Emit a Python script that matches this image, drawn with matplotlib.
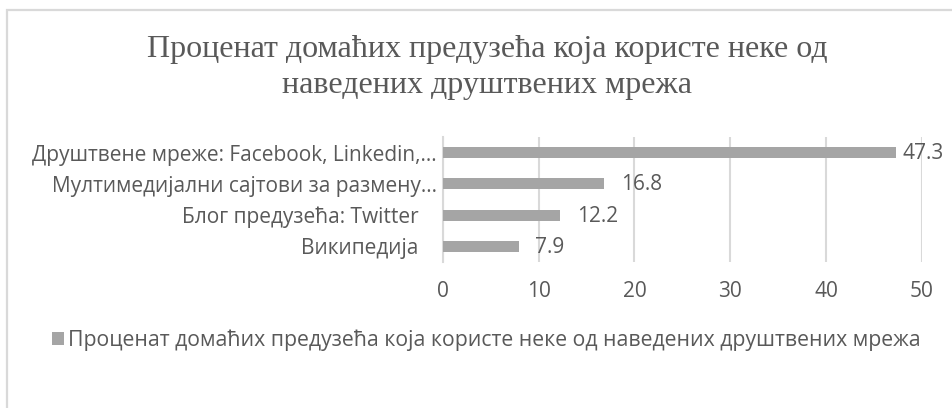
import matplotlib
matplotlib.use("Agg")
import matplotlib.pyplot as plt
import matplotlib.transforms as mtransforms
from matplotlib.patches import Rectangle, Patch

# Data
categories = [
    "Друштвене мреже: Facebook, Linkedin,…",
    "Мултимедијални сајтови за размену…",
    "Блог предузећа: Twitter",
    "Википедија",
]
values = [47.3, 16.8, 12.2, 7.9]
x_ticks = [0, 10, 20, 30, 40, 50]
series_name = "Проценат домаћих предузећа која користе неке од наведених друштвених мрежа"
title_lines = ["Проценат домаћих предузећа која користе неке од",
               "наведених друштвених мрежа"]

TEXT = "#595959"
BAR = "#a5a5a5"
GRID = "#d9d9d9"
SANS = ["Open Sans", "DejaVu Sans"]
FS = 15

W, H, DPI = 952, 408, 100
fig = plt.figure(figsize=(W / DPI, H / DPI), dpi=DPI)
fig.patch.set_facecolor("white")

# chart frame (left and top edges visible)
fig.patches.append(Rectangle((7 / W, -0.2), 1.2, 1.2 - 10 / H,
                             transform=fig.transFigure, fill=False,
                             edgecolor=GRID, linewidth=1.6, zorder=0))

ax = fig.add_axes([443 / W, 1 - 262 / H, (921.7 - 443) / W, (262 - 137) / H])

y = list(range(len(categories)))
ax.barh(y, values, height=0.35, color=BAR, zorder=3)
ax.set_ylim(len(categories) - 0.5, -0.5)
ax.set_xlim(0, 50)

ax.set_xticks(x_ticks)
ax.set_xticklabels([str(t) for t in x_ticks], family=SANS, fontsize=FS, color=TEXT)
ax.set_yticks(y)
ax.set_yticklabels(categories, family=SANS, fontsize=FS, color=TEXT)
ax.tick_params(axis="x", length=0, pad=14)
ax.tick_params(axis="y", length=0, pad=4.5)

# labels not truncated sit a little further from the axis
for lab in ax.get_yticklabels():
    if not lab.get_text().endswith("…"):
        lab.set_transform(lab.get_transform() +
                          mtransforms.ScaledTranslation(-18 / DPI, 0, fig.dpi_scale_trans))

ax.grid(axis="x", color=GRID, linewidth=1.5, zorder=0)
for s in ("top", "right", "bottom"):
    ax.spines[s].set_visible(False)
ax.spines["left"].set_color(GRID)
ax.spines["left"].set_linewidth(1.5)

# value labels
offsets = [7, 17, 17, 16]
for yi, v, off in zip(y, values, offsets):
    ax.annotate(f"{v}", xy=(v, yi), xytext=(off, -1), textcoords="offset pixels",
                ha="left", va="center", family=SANS, fontsize=FS, color=TEXT,
                annotation_clip=False)

for line, ypx in zip(title_lines, [49, 86]):
    fig.text(487.5 / W, 1 - ypx / H, line, ha="center", va="center",
             family=["Liberation Serif"], fontsize=23, color=TEXT)

handle = Patch(facecolor=BAR, edgecolor="none")
fig.legend([handle], [series_name], loc="center left",
           bbox_to_anchor=(52 / W, 1 - 340 / H), frameon=False, borderpad=0,
           borderaxespad=0,
           prop={"family": SANS, "size": 15.3}, labelcolor=TEXT,
           handlelength=0.55, handleheight=0.55, handletextpad=0.2)

fig.savefig("out.png", dpi=DPI, facecolor="white")
